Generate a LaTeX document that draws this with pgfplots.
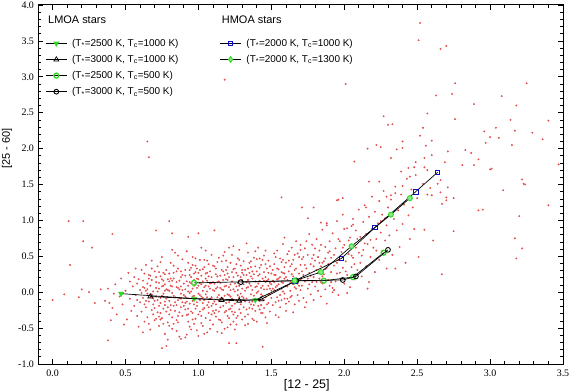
\documentclass[border=0pt]{standalone}
\usepackage{pgfplots}
\pgfplotsset{compat=1.18}
\usepackage{fontspec}
\setmainfont{Liberation Serif}
\newfontfamily\sansf{Liberation Sans}
\definecolor{mgreen}{RGB}{50,215,40}
\definecolor{mblue}{RGB}{10,10,200}
\definecolor{dotred}{RGB}{228,80,80}
\pgfplotsset{
  legend image code/.code={\draw[mark repeat=2,mark phase=2,#1] plot coordinates {(0cm,0cm) (0.37cm,0cm) (0.74cm,0cm)};},
}
\newcommand{\legtxt}[1]{\hspace{3bp}#1}
\begin{document}
\begin{tikzpicture}
\begin{axis}[
  at={(0,0)}, anchor=south west,
  scale only axis, width=525bp, height=359bp,
  clip mode=individual,
  xmin=-0.1, xmax=3.5, ymin=-1, ymax=4,
  xtick={0,0.5,...,3.5}, ytick={-1,-0.5,...,4},
  minor x tick num=4, minor y tick num=4,
  tick align=inside, xtick pos=both, ytick pos=both,
  major tick length=5bp, minor tick length=3bp,
  every tick/.style={black, line width=0.7pt},
  axis line style={line width=1pt},
  tick label style={font=\fontsize{10}{12}\selectfont},
  /pgf/number format/assume math mode=true,
  /pgf/number format/.cd, fixed, fixed zerofill, precision=1, /pgfplots/.cd,
  xticklabel style={yshift=-2bp},
  yticklabel style={xshift=-0.5bp},
  legend style={at={(axis description cs:0.012,0.914)}, anchor=north west, draw=none, fill=none,
    font=\sansf\fontsize{10}{12}\selectfont, row sep=3.4bp, inner sep=1pt},
  legend cell align=left,
]
\addplot[only marks, mark=*, mark size=0.75bp, color=dotred, forget plot] table {
0.00 -0.11
0.08 -0.03
0.18 -0.07
0.20 0.04
0.25 0.00
0.29 -0.15
0.33 0.04
0.40 -0.39
0.38 -0.67
0.75 -0.78
0.78 -0.75
1.21 -0.71
1.26 -0.71
1.44 -0.76
0.88 -0.65
0.91 -0.63
0.11 0.99
0.21 0.99
0.41 0.81
0.21 0.71
0.27 0.62
0.12 0.38
0.71 0.86
0.82 0.82
0.93 0.77
1.00 0.82
1.11 0.86
0.80 0.99
0.65 2.10
0.66 1.88
1.18 2.96
1.57 1.32
1.71 1.18
1.79 1.18
1.75 1.03
1.84 0.97
1.88 0.96
1.95 1.28
2.06 0.94
2.15 1.18
1.92 0.00
2.02 -0.01
2.61 0.72
2.75 0.85
2.67 0.25
2.51 0.49
2.35 0.33
2.55 0.87
2.92 1.14
2.95 1.15
3.20 1.06
3.17 0.75
3.18 0.47
3.22 0.61
3.40 1.21
3.23 1.51
3.01 1.72
2.75 1.31
2.70 1.28
2.67 1.23
2.64 1.51
2.66 1.39
2.52 3.75
2.51 3.51
2.66 3.39
2.70 3.43
2.01 2.90
2.76 2.91
3.25 2.91
2.63 2.74
2.74 2.76
3.08 2.73
2.89 2.62
3.18 2.60
2.27 2.45
2.57 2.49
2.30 2.33
2.33 2.34
2.76 2.41
3.14 2.40
3.40 2.39
2.54 2.29
3.04 2.29
2.96 2.24
3.17 2.25
3.29 2.22
2.52 2.18
3.00 2.16
3.06 2.15
3.36 2.13
2.40 2.10
2.60 2.11
2.97 2.08
2.22 2.05
2.25 2.02
2.56 2.04
2.16 2.00
2.36 1.99
2.40 2.01
3.15 2.05
2.83 1.98
2.87 1.94
2.60 1.91
2.32 1.87
2.07 1.82
2.55 1.87
2.71 1.96
2.92 1.85
2.69 1.81
2.49 1.81
2.81 1.77
2.89 1.77
3.47 1.78
2.44 1.73
2.48 1.74
2.55 1.74
2.39 1.68
2.57 1.70
3.00 1.71
2.45 1.61
2.66 1.56
2.17 1.54
2.24 1.54
2.54 1.51
3.22 1.57
3.24 1.50
2.40 1.48
2.71 1.46
3.09 1.42
2.59 1.45
2.35 1.38
2.29 1.33
2.32 1.35
2.57 1.36
2.60 1.35
2.70 1.32
1.96 1.29
1.99 1.31
0.36 -0.12
0.38 0.05
0.41 -0.22
0.43 0.11
0.44 -0.31
0.46 -0.06
0.47 0.19
0.48 -0.17
0.50 0.02
0.51 -0.38
0.52 0.27
0.53 -0.09
0.54 -0.26
0.55 0.08
0.49 -0.45
0.42 -0.02
0.39 -0.15
0.53 0.15
0.56 -0.19
0.56 0.21
0.57 -0.04
0.58 -0.33
0.58 0.12
0.59 -0.48
0.60 0.03
0.60 -0.14
0.61 0.31
0.61 -0.27
0.62 -0.08
0.62 0.16
0.63 -0.41
0.63 0.06
0.64 -0.21
0.64 0.38
0.65 -0.02
0.65 -0.35
0.66 0.24
0.66 -0.13
0.67 0.09
0.67 -0.52
0.68 -0.25
0.68 0.44
0.69 0.01
0.69 -0.17
0.70 0.29
0.70 -0.39
0.57 0.33
0.59 0.18
0.62 -0.56
0.64 0.02
0.66 -0.44
0.68 0.17
0.69 -0.31
0.61 -0.01
0.63 0.26
0.67 -0.07
0.58 -0.11
0.65 0.12
0.71 -0.06
0.71 0.14
0.72 -0.28
0.72 0.36
0.73 -0.47
0.73 0.05
0.74 -0.15
0.74 0.22
0.75 -0.36
0.75 0.49
0.76 -0.02
0.76 -0.23
0.77 0.11
0.77 -0.58
0.78 0.31
0.78 -0.09
0.79 -0.42
0.79 0.18
0.80 0.02
0.80 -0.31
0.81 0.41
0.81 -0.18
0.82 0.08
0.82 -0.51
0.83 -0.05
0.83 0.27
0.84 -0.26
0.84 0.55
0.85 0.14
0.85 -0.39
0.86 -0.11
0.86 0.33
0.87 -0.62
0.87 0.04
0.88 -0.21
0.88 0.21
0.89 0.46
0.89 -0.33
0.90 -0.04
0.90 0.12
0.72 0.01
0.73 -0.19
0.74 0.42
0.75 0.08
0.76 -0.44
0.77 0.25
0.78 -0.27
0.79 0.03
0.80 -0.12
0.81 0.19
0.82 -0.35
0.83 0.37
0.84 -0.07
0.85 -0.54
0.86 0.06
0.87 -0.28
0.88 0.29
0.89 -0.14
0.71 -0.37
0.74 -0.08
0.77 -0.13
0.80 0.26
0.83 -0.44
0.86 0.51
0.88 -0.02
0.79 -0.66
0.82 0.59
0.76 0.16
0.85 -0.18
0.73 0.28
0.91 -0.24
0.91 0.31
0.92 -0.08
0.92 0.57
0.93 -0.41
0.93 0.09
0.94 -0.16
0.94 0.24
0.95 -0.52
0.95 0.01
0.96 0.38
0.96 -0.29
0.97 -0.05
0.97 0.17
0.98 -0.37
0.98 0.47
0.99 0.06
0.99 -0.19
1.00 -0.61
1.00 0.27
1.01 -0.11
1.01 0.13
1.02 -0.33
1.02 0.62
1.03 0.02
1.03 -0.47
1.04 0.35
1.04 -0.22
1.05 -0.03
1.05 0.19
1.06 -0.56
1.06 0.44
1.07 -0.14
1.07 0.08
1.08 0.29
1.08 -0.39
1.09 -0.07
1.09 0.52
1.10 -0.26
1.10 0.14
0.91 0.04
0.92 -0.32
0.93 0.41
0.94 -0.01
0.95 0.21
0.96 -0.12
0.97 -0.44
0.98 0.11
0.99 0.33
1.00 -0.02
1.01 -0.27
1.02 0.23
1.03 -0.15
1.04 0.07
1.05 -0.36
1.06 0.16
1.07 0.39
1.08 -0.09
1.09 -0.31
1.10 0.03
0.93 -0.23
0.95 0.34
0.97 0.26
0.99 -0.53
1.01 0.45
1.03 0.15
1.05 0.58
1.07 -0.21
1.09 0.21
0.92 0.15
0.94 -0.48
0.96 0.05
0.98 -0.23
1.00 0.09
1.02 -0.06
1.04 -0.58
1.06 -0.18
1.08 0.12
1.10 -0.45
0.96 0.49
1.03 0.32
0.91 -0.15
1.06 0.01
0.98 -0.09
1.11 -0.13
1.11 0.36
1.12 -0.34
1.12 0.05
1.13 0.22
1.13 -0.55
1.14 -0.04
1.14 0.48
1.15 -0.21
1.15 0.13
1.16 0.31
1.16 -0.42
1.17 -0.09
1.17 0.03
1.18 0.56
1.18 -0.28
1.19 0.18
1.19 -0.15
1.20 -0.49
1.20 0.26
1.21 0.07
1.21 -0.36
1.22 0.41
1.22 -0.06
1.23 -0.19
1.23 0.15
1.24 0.64
1.24 -0.31
1.25 0.01
1.25 0.33
1.26 -0.45
1.26 -0.11
1.27 0.23
1.27 0.47
1.28 -0.24
1.28 0.09
1.29 -0.02
1.29 0.37
1.30 -0.38
1.30 0.17
1.11 0.12
1.12 -0.17
1.13 0.42
1.14 -0.27
1.15 0.06
1.16 -0.08
1.17 0.29
1.18 -0.51
1.19 0.44
1.20 -0.03
1.21 0.21
1.22 -0.23
1.23 0.52
1.24 0.04
1.25 -0.16
1.26 0.27
1.27 -0.33
1.28 0.59
1.29 -0.12
1.30 0.05
1.12 0.25
1.14 0.15
1.16 -0.57
1.18 0.08
1.20 0.35
1.22 0.11
1.24 -0.41
1.26 0.39
1.28 -0.07
1.30 0.31
1.13 -0.07
1.15 -0.39
1.17 0.51
1.19 -0.26
1.21 -0.14
1.23 0.28
1.25 -0.52
1.27 0.13
1.29 0.21
1.21 0.62
1.31 -0.21
1.31 0.43
1.32 0.02
1.32 -0.46
1.33 0.24
1.33 -0.09
1.34 0.55
1.34 -0.31
1.35 0.12
1.35 -0.14
1.36 0.35
1.36 -0.03
1.37 -0.37
1.37 0.19
1.38 0.48
1.38 -0.18
1.39 0.07
1.39 -0.26
1.40 0.29
1.40 -0.41
1.41 0.01
1.41 0.62
1.42 -0.12
1.42 0.16
1.43 0.38
1.43 -0.29
1.44 0.09
1.44 -0.05
1.45 0.51
1.45 -0.22
1.46 0.21
1.46 -0.35
1.47 0.04
1.47 0.33
1.48 -0.15
1.48 0.44
1.49 0.13
1.49 -0.27
1.50 0.26
1.50 -0.08
1.31 0.11
1.32 0.31
1.33 -0.24
1.34 0.07
1.35 0.41
1.36 -0.17
1.37 0.03
1.38 0.25
1.39 0.57
1.40 -0.01
1.41 -0.19
1.42 0.34
1.43 0.06
1.44 0.45
1.45 -0.11
1.46 0.14
1.47 -0.43
1.48 0.18
1.49 0.36
1.50 0.02
1.33 0.68
1.36 0.22
1.39 -0.09
1.42 0.47
1.45 0.28
1.48 -0.03
1.34 -0.44
1.41 0.23
1.37 -0.13
1.46 0.58
1.51 0.16
1.51 -0.18
1.52 0.39
1.52 0.03
1.53 -0.32
1.53 0.24
1.54 0.58
1.54 -0.07
1.55 0.11
1.55 0.32
1.56 -0.21
1.56 0.47
1.57 0.05
1.57 -0.11
1.58 0.27
1.58 0.67
1.59 -0.02
1.59 0.19
1.60 0.41
1.60 -0.26
1.61 0.08
1.61 0.53
1.62 -0.13
1.62 0.29
1.63 0.14
1.63 0.36
1.64 -0.05
1.64 0.62
1.65 0.22
1.65 0.45
1.66 -0.17
1.66 0.07
1.67 0.33
1.67 0.71
1.68 0.12
1.68 -0.04
1.69 0.26
1.69 0.49
1.70 0.03
1.70 0.38
1.52 0.14
1.53 0.49
1.55 -0.35
1.56 0.21
1.58 0.01
1.59 0.35
1.61 -0.09
1.62 0.57
1.64 0.25
1.65 -0.28
1.67 0.17
1.68 0.54
1.69 -0.12
1.57 0.42
1.60 0.09
1.63 0.02
1.66 0.31
1.54 0.18
1.59 0.76
1.70 0.18
1.71 0.09
1.71 0.46
1.72 -0.08
1.72 0.24
1.73 0.61
1.73 0.15
1.74 0.33
1.74 -0.14
1.75 0.05
1.75 0.52
1.76 0.27
1.76 0.81
1.77 -0.03
1.77 0.39
1.78 0.14
1.78 0.66
1.79 0.21
1.79 -0.11
1.80 0.44
1.80 0.08
1.81 0.31
1.81 0.74
1.82 0.02
1.82 0.49
1.83 0.19
1.83 0.58
1.84 -0.06
1.84 0.36
1.85 0.12
1.85 0.87
1.86 0.43
1.86 0.25
1.87 0.04
1.87 0.63
1.88 0.34
1.88 -0.16
1.89 0.17
1.89 0.55
1.90 0.71
1.90 0.09
1.73 -0.21
1.76 0.11
1.79 0.52
1.82 0.27
1.85 0.41
1.88 0.93
1.74 0.71
1.80 0.61
1.84 0.14
1.87 0.32
1.91 0.28
1.91 0.48
1.92 0.06
1.92 0.82
1.93 0.37
1.94 0.15
1.94 0.61
1.95 0.99
1.95 0.26
1.96 0.45
1.96 -0.04
1.97 0.71
1.98 0.19
1.98 0.56
1.99 0.34
1.99 1.08
2.00 0.12
2.00 0.66
2.01 0.43
2.02 0.89
2.02 0.24
2.03 0.53
2.04 0.07
2.04 0.76
2.05 0.35
2.06 1.02
2.06 0.48
2.07 0.18
2.08 0.62
2.08 0.86
2.09 0.31
2.10 0.55
2.10 1.15
1.93 0.03
2.05 0.92
2.11 0.41
2.11 0.77
2.12 0.22
2.13 0.98
2.13 0.59
2.14 1.21
2.15 0.36
2.15 0.81
2.16 0.67
2.17 1.05
2.17 0.14
2.18 0.49
2.19 0.88
2.19 1.33
2.20 0.62
2.21 0.28
2.21 1.12
2.22 0.74
2.23 0.96
2.24 0.45
2.24 1.27
2.25 0.83
2.26 1.08
2.26 0.57
2.27 1.41
2.28 0.72
2.29 0.93
2.29 0.33
2.30 1.18
2.16 0.05
2.31 0.79
2.32 1.29
2.33 0.52
2.34 1.02
2.35 1.47
2.36 0.86
2.37 1.14
2.38 0.63
2.39 1.36
2.40 0.95
2.41 1.22
2.42 0.41
2.43 1.58
2.44 1.07
2.45 0.74
2.46 1.43
2.47 1.18
2.48 0.88
2.49 1.63
2.50 1.31
0.62 0.07
0.64 -0.12
0.66 0.19
0.68 -0.03
0.70 -0.22
0.71 0.21
0.72 -0.11
0.73 0.13
0.74 -0.29
0.75 -0.05
0.76 0.27
0.77 -0.18
0.78 0.04
0.79 -0.07
0.80 0.15
0.81 -0.25
0.82 -0.01
0.83 0.19
0.84 -0.14
0.85 0.07
0.86 -0.33
0.87 0.16
0.88 -0.09
0.89 0.03
0.90 -0.19
0.91 0.23
0.92 -0.13
0.93 0.01
0.94 0.14
0.95 -0.27
0.96 -0.06
0.97 0.09
0.98 0.28
0.99 -0.14
1.00 0.18
1.01 -0.04
1.02 0.11
1.03 -0.24
1.04 -0.11
1.05 0.26
1.06 -0.07
1.07 -0.29
1.08 0.05
1.09 0.13
1.10 -0.16
1.11 0.02
1.12 -0.25
1.13 0.14
1.14 -0.12
1.15 0.23
1.16 0.04
1.17 -0.19
1.18 -0.05
1.19 0.09
1.20 0.17
1.21 -0.24
1.22 0.03
1.23 -0.09
1.24 0.21
1.25 -0.28
1.26 0.08
1.27 -0.04
1.28 0.16
1.29 -0.17
1.30 -0.06
1.31 0.24
1.32 -0.13
1.33 0.06
1.34 0.17
1.35 -0.22
1.36 0.09
1.37 0.29
1.38 -0.05
1.39 0.15
1.40 0.08
1.41 -0.11
1.42 0.25
1.43 -0.18
1.44 0.19
1.45 0.04
1.46 -0.07
1.47 0.16
1.48 0.27
1.49 -0.03
1.50 0.11
1.51 0.05
1.52 0.24
1.53 -0.14
1.54 0.09
1.55 0.19
1.56 -0.04
1.57 0.28
1.58 0.13
1.59 -0.09
1.60 0.21
0.63 -0.17
0.65 0.04
0.67 0.23
0.69 -0.09
0.71 0.06
0.73 -0.34
0.75 0.18
0.77 0.02
0.79 -0.21
0.81 0.09
0.83 -0.19
0.85 0.29
0.87 -0.08
0.89 0.24
0.91 -0.06
0.93 -0.31
0.95 0.12
0.97 -0.17
0.99 0.19
1.01 0.31
1.03 -0.08
1.05 0.09
1.07 0.22
1.09 -0.19
1.11 -0.29
1.13 0.07
1.15 -0.09
1.17 0.17
1.19 0.31
1.21 -0.04
1.23 -0.27
1.25 0.12
1.27 0.03
1.29 -0.29
1.31 -0.08
1.33 0.14
1.35 0.27
1.37 -0.23
1.39 0.36
1.41 0.12
1.43 -0.03
1.45 0.16
1.47 -0.17
1.49 0.05
1.51 0.31
1.53 0.07
1.55 -0.12
1.57 0.14
1.59 0.26
1.61 0.17
1.63 -0.07
1.65 0.11
1.67 0.05
1.69 0.09
1.71 0.29
1.73 0.38
1.75 0.19
1.77 0.23
1.79 0.36
1.81 0.14
1.83 0.41
1.85 0.22
1.87 0.47
1.89 0.39
1.91 0.14
1.93 0.52
1.95 0.41
1.97 0.27
1.99 0.62
2.01 0.29
2.03 0.72
2.05 0.51
2.07 0.39
2.09 0.74
2.12 0.51
2.14 0.68
2.18 0.73
2.22 0.58
2.25 0.99
2.28 1.03
1.62 0.44
1.66 0.52
1.70 0.59
1.72 0.49
1.78 0.47
1.84 0.66
1.90 0.57
1.96 0.74
2.00 0.88
0.68 0.33
0.74 -0.38
0.80 -0.47
0.86 -0.42
0.92 -0.59
0.98 0.37
1.04 0.45
1.10 0.37
1.16 0.43
1.22 -0.45
1.28 0.45
1.34 0.33
1.40 0.46
1.46 0.39
1.52 0.54
1.58 0.45
1.64 0.39
1.70 0.66
0.96 -0.38
1.02 -0.43
1.08 -0.51
1.14 -0.38
1.20 -0.33
1.26 -0.36
1.32 -0.34
1.38 -0.39
1.44 -0.29
0.70 -0.12
0.76 0.09
0.82 0.16
0.88 0.08
0.94 0.31
1.00 -0.31
1.06 0.27
1.12 0.33
1.18 0.24
1.24 0.32
1.30 0.27
1.36 0.43
1.42 -0.24
1.48 0.09
1.54 0.33
1.60 -0.16
};
% LMOA models
\addplot[black, line width=0.7pt, mark=triangle*, mark size=2.8pt,
  mark options={rotate=180, fill=mgreen, draw=mgreen}] coordinates {
(0.47,-0.02) (0.97,-0.09) (1.39,-0.11) (1.66,0.15)};
\addlegendentry{\legtxt{(T\textsubscript{*}=2500 K, T\textsubscript{c}=1000 K)}}
\addplot[black, line width=0.7pt, mark=triangle, mark size=2.8pt,
  mark options={draw=black, fill=none, line width=0.7pt}] coordinates {
(0.67,-0.06) (1.16,-0.11) (1.28,-0.12) (1.43,-0.10) (1.67,0.16)};
\addlegendentry{\legtxt{(T\textsubscript{*}=3000 K, T\textsubscript{c}=1000 K)}}
\addplot[black, line width=0.7pt, mark=o, mark size=2.5pt,
  mark options={draw=mgreen, line width=1.3pt}] coordinates {
(0.97,0.13) (1.66,0.16) (1.86,0.16) (2.06,0.21) (2.27,0.55)};
\addlegendentry{\legtxt{(T\textsubscript{*}=2500 K, T\textsubscript{c}=500 K)}}
\addplot[black, line width=0.7pt, mark=o, mark size=2.4pt,
  mark options={black, line width=0.9pt}] coordinates {
(1.29,0.14) (1.67,0.16) (1.99,0.17) (2.08,0.22) (2.30,0.59)};
\addlegendentry{\legtxt{(T\textsubscript{*}=3000 K, T\textsubscript{c}=500 K)}}
% HMOA models
\addplot[black, line width=0.7pt, mark=square, mark size=2.3pt,
  mark options={draw=mblue, line width=0.9pt}, forget plot] coordinates {
(1.66,0.16) (1.98,0.47) (2.21,0.90) (2.49,1.40) (2.64,1.67)};
\addplot[black, line width=0.7pt, mark=*, mark size=2.5pt,
  mark options={draw=mgreen, fill=mgreen!55!white, line width=1pt}, forget plot] coordinates {
(1.66,0.16) (1.84,0.28) (2.05,0.64) (2.32,1.08) (2.45,1.31)};
\node[anchor=west, font=\sansf\fontsize{11}{13}\selectfont, inner sep=0pt] at (axis description cs:0.019,0.958) {LMOA stars};
\node[anchor=west, font=\sansf\fontsize{11}{13}\selectfont, inner sep=0pt] at (axis description cs:0.350,0.958) {HMOA stars};
\node[font=\sansf\fontsize{11}{13}\selectfont, rotate=90] at ([xshift=-31bp]axis description cs:0,0.60) {[25 - 60]};
\node[font=\sansf\fontsize{12.5}{14}\selectfont] at ([yshift=-21bp]axis description cs:0.512,0) {[12 - 25]};
\end{axis}
\begin{axis}[
  at={(0,0)}, anchor=south west,
  scale only axis, width=525bp, height=359bp,
  xmin=0, xmax=1, ymin=0, ymax=1, hide axis,
  legend style={at={(axis description cs:0.344,0.914)}, anchor=north west, draw=none, fill=none,
    font=\sansf\fontsize{10}{12}\selectfont, row sep=3.4bp, inner sep=1pt},
  legend cell align=left,
]
\addlegendimage{black, line width=0.7pt, mark=square, mark size=2.3pt, mark options={draw=mblue, line width=0.9pt}}
\addlegendentry{\legtxt{(T\textsubscript{*}=2000 K, T\textsubscript{c}=1000 K)}}
\addlegendimage{black, line width=0.7pt, mark=diamond*, mark size=2.8pt, mark options={draw=mgreen, fill=mgreen!55!white, line width=0.9pt}}
\addlegendentry{\legtxt{(T\textsubscript{*}=2000 K, T\textsubscript{c}=1300 K)}}
\end{axis}
\pgfresetboundingbox
\useasboundingbox (-38bp,-28bp) rectangle (532bp,364bp);
\end{tikzpicture}
\end{document}
